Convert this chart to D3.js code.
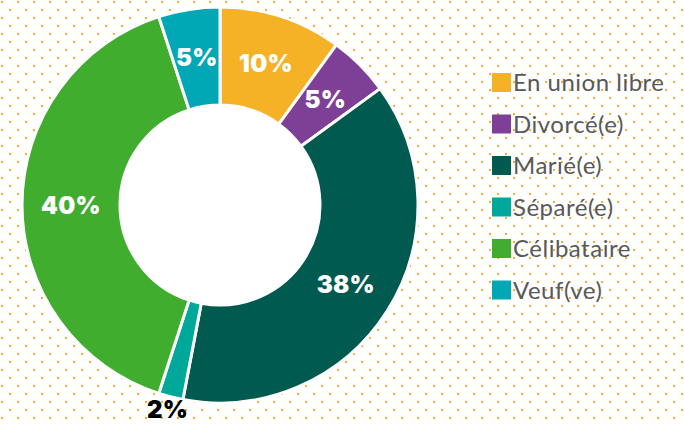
<!DOCTYPE html>
<meta charset="utf-8">
<script src="https://cdn.jsdelivr.net/npm/d3@7"></script>
<style>
body { margin: 0; background: #fff; }
</style>
<body>
<script>

// data
var categories = ["En union libre", "Divorcé(e)", "Marié(e)", "Séparé(e)", "Célibataire", "Veuf(ve)"];
var values = [10, 5, 38, 2, 40, 5];
var labels = ["10%", "5%", "38%", "2%", "40%", "5%"];
var colors = ["#f5b227", "#7e3f96", "#005a50", "#00a89a", "#40ad2f", "#00a8b5"];

var width = 684, height = 425;
var cx = 220, cy = 205, outerR = 198, innerR = 100;

var svg = d3.select("body").append("svg")
    .attr("width", width)
    .attr("height", height);

// dotted background
var pat = svg.append("defs").append("pattern")
    .attr("id", "dots").attr("patternUnits", "userSpaceOnUse")
    .attr("width", 16).attr("height", 16);
pat.append("rect").attr("x", 1).attr("y", 1).attr("width", 2).attr("height", 2).attr("fill", "#f5ae1f");
pat.append("rect").attr("x", 9).attr("y", 9).attr("width", 2).attr("height", 2).attr("fill", "#f5ae1f");
svg.append("rect").attr("width", width).attr("height", height).attr("fill", "url(#dots)");

var pie = d3.pie().sort(null).value(function(d) { return d; });
var arcs = pie(values);
var arc = d3.arc().innerRadius(innerR).outerRadius(outerR);
var labelArc = d3.arc().innerRadius(149).outerRadius(149);
var outArc = d3.arc().innerRadius(211).outerRadius(211);

var g = svg.append("g").attr("transform", "translate(" + cx + "," + cy + ")");

// white hole so dots don't show inside
g.append("circle").attr("r", innerR).attr("fill", "#fff");

g.selectAll("path").data(arcs).enter().append("path")
    .attr("d", arc)
    .attr("fill", function(d, i) { return colors[i]; })
    .attr("stroke", "#fff")
    .attr("stroke-width", 3);

g.selectAll("text.lbl").data(arcs).enter().append("text")
    .attr("class", "lbl")
    .attr("transform", function(d) {
        var p = (d.data < 3) ? outArc.centroid(d) : labelArc.centroid(d);
        return "translate(" + p[0] + "," + p[1] + ")";
    })
    .attr("text-anchor", "middle")
    .attr("dy", "0.36em")
    .style("font-family", "Inter, sans-serif")
    .style("font-weight", 900)
    .style("font-size", "24px")
    .style("letter-spacing", "0.3px")
    .attr("fill", function(d) { return d.data < 3 ? "#000" : "#fff"; })
    .text(function(d, i) { return labels[i]; });

// legend
var legend = svg.selectAll("g.legend").data(categories).enter().append("g")
    .attr("class", "legend")
    .attr("transform", function(d, i) { return "translate(492," + (73 + i * 41.5) + ")"; });

legend.append("rect").attr("width", 19).attr("height", 19)
    .attr("fill", function(d, i) { return colors[i]; });
legend.append("text")
    .attr("x", 21).attr("y", 18)
    .style("font-family", "Lato, sans-serif")
    .style("font-size", "24px")
    .style("letter-spacing", "0.5px")
    .attr("fill", "#58595b")
    .text(String);

</script>
</body>
</html>
